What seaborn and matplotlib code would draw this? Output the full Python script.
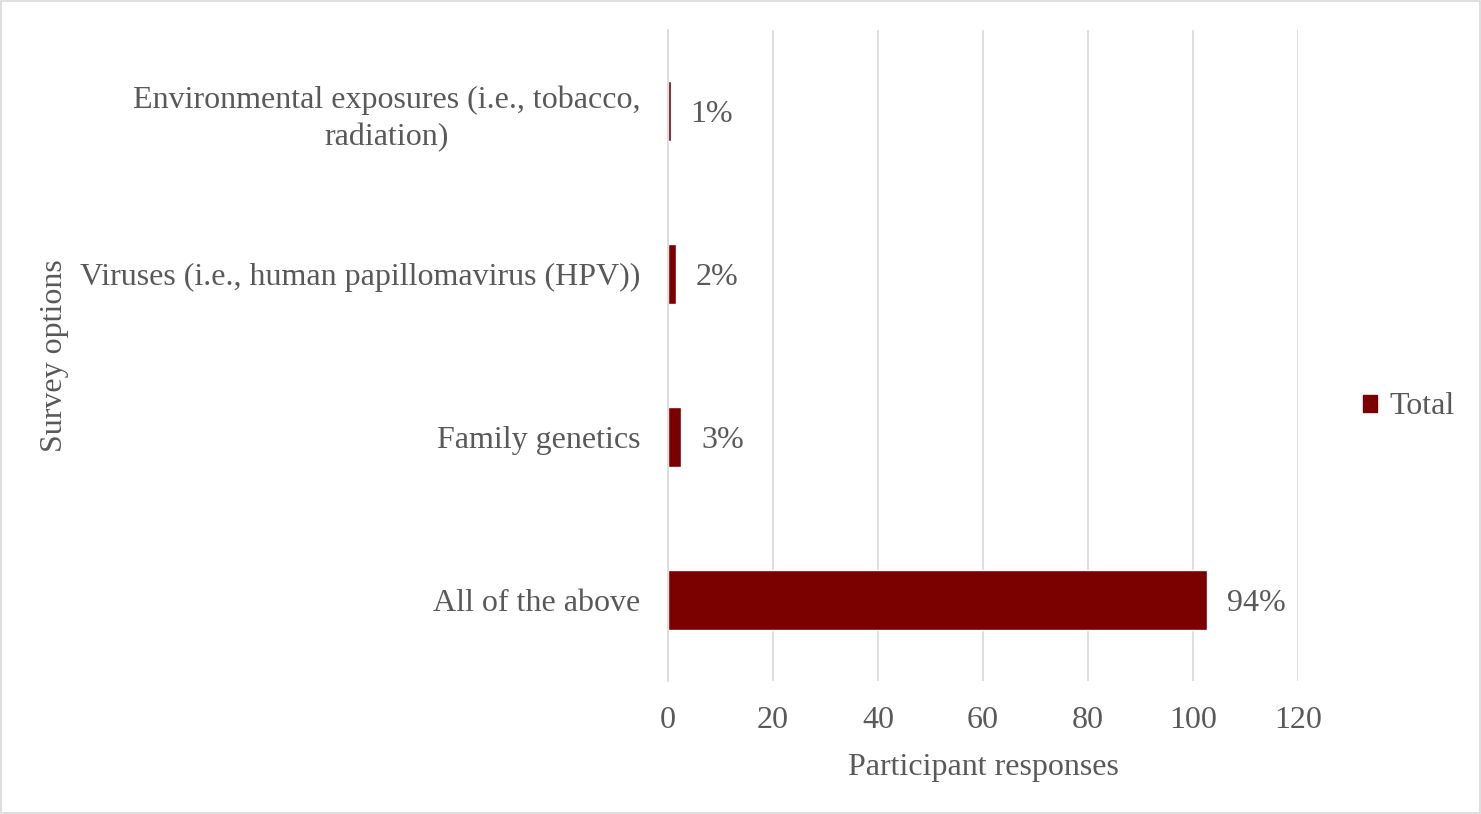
import matplotlib
matplotlib.use("Agg")
import matplotlib.pyplot as plt
import matplotlib.patches as mpatches
import pandas as pd
import seaborn as sns

# data
options = ["Environmental exposures (i.e., tobacco,\nradiation)",
           "Viruses (i.e., human papillomavirus (HPV))",
           "Family genetics",
           "All of the above"]
responses = [0.5, 1.5, 2.5, 102.7]
pct_labels = ["1%", "2%", "3%", "94%"]
xticks = [0, 20, 40, 60, 80, 100, 120]

df = pd.DataFrame({"option": options, "responses": responses})

sns.set_style("white")
plt.rcParams["font.family"] = ["Liberation Serif", "DejaVu Serif"]
txt = "#595959"
grid_c = "#d9d9d9"
bar_c = "#7b0000"
fs = 23

fig = plt.figure(figsize=(14.81, 8.14), dpi=100)
ax = fig.add_axes([668 / 1481, 1 - 681 / 814, 630 / 1481, 651 / 814])

sns.barplot(data=df, y="option", x="responses", orient="h", color=bar_c,
            saturation=1, width=0.37, ax=ax)

ax.set_xlim(0, 120)
ax.set_ylim(3.5, -0.5)
ax.set_xticks(xticks)
ax.set_xticklabels([str(t) for t in xticks], fontsize=fs, color=txt)
ax.tick_params(axis="x", length=0, pad=18)

# category separator ticks on the left
ax.set_yticks([0, 1, 2, 3])
ax.set_yticklabels(options, fontsize=fs, color=txt, multialignment="center",
                   linespacing=1.35)
ax.set_yticks([-0.5, 0.5, 1.5, 2.5, 3.5], minor=True)
ax.tick_params(axis="y", which="major", length=0, pad=20)
ax.tick_params(axis="y", which="minor", length=8, width=1.2, color=grid_c, direction="out")

ax.grid(axis="x", color=grid_c, linewidth=1.2)
ax.set_axisbelow(True)
for s in ["top", "right", "bottom"]:
    ax.spines[s].set_visible(False)
ax.spines["left"].set_color(grid_c)
ax.spines["left"].set_linewidth(1.2)

for i, (v, lab) in enumerate(zip(responses, pct_labels)):
    ax.text(v + 3.8, i, lab, va="center_baseline", ha="left", fontsize=fs, color=txt)

ax.set_xlabel("Participant responses", fontsize=fs, color=txt, labelpad=13)
ax.set_ylabel("Survey options", fontsize=fs, color=txt, labelpad=8)

handle = mpatches.Patch(color=bar_c, label="Total")
fig.legend(handles=[handle], loc="center left", bbox_to_anchor=(1334 / 1481, 1 - 407 / 814),
           frameon=False, fontsize=fs, labelcolor=txt, handlelength=0.45, handleheight=0.45,
           handletextpad=0.4)

fig.patches.append(mpatches.Rectangle((0.001, 0.001), 0.998, 0.998, transform=fig.transFigure,
                                      fill=False, edgecolor=grid_c, linewidth=1.2))

fig.savefig("out.png", dpi=100, facecolor="white")
